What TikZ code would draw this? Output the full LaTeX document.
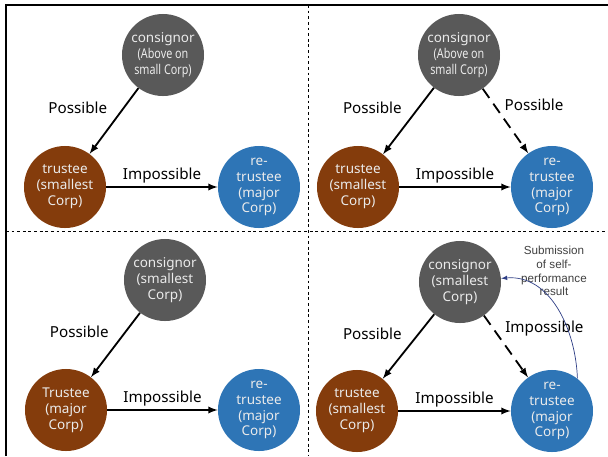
\documentclass[tikz,border=0pt]{standalone}
\usepackage{fontspec}
\usepackage{graphicx}
\setmainfont{Noto Sans}
\newfontfamily\notefont{Liberation Sans}

\definecolor{grayc}{HTML}{595959}
\definecolor{brownc}{HTML}{843C0C}
\definecolor{bluec}{HTML}{2E75B6}
\definecolor{navyc}{HTML}{2F3F86}

\newcommand{\narrow}[1]{\scalebox{0.8}[1]{#1}}

\begin{document}
\begin{tikzpicture}[x=0.025cm, y=-0.025cm,
  disc/.style={circle, minimum size=2.05cm, inner sep=0pt, align=center,
    text=white!92!black, font=\fontsize{9.6}{11.3}\selectfont},
  lab/.style={font=\fontsize{10.8}{12}\selectfont, inner sep=2pt},
  arr/.style={-latex, line width=1.3pt},
  darr/.style={arr, dash pattern=on 8pt off 5pt},
  grid/.style={line width=0.6pt, dash pattern=on 2pt off 2pt}]

  \useasboundingbox (0,0) rectangle (608,456);

  % frame
  \draw [line width=0.9pt] (6,456) -- (6,5) -- (608,5);
  \draw [grid] (6,231) -- (608,231);
  \draw [grid] (308,5) -- (308,456);

  % top left
  \node [disc, fill=grayc] (a) at (163, 55) {consignor\\\narrow{(Above on}\\\narrow{small Corp)}};
  \node [disc, fill=brownc] (b) at (65, 187) {trustee\\(smallest\\Corp)};
  \node [disc, fill=bluec] (c) at (259, 187) {re-\\trustee\\(major\\Corp)};

  % top right
  \node [disc, fill=grayc] (d) at (459, 55) {consignor\\\narrow{(Above on}\\\narrow{small Corp)}};
  \node [disc, fill=brownc] (e) at (358, 187) {trustee\\(smallest\\Corp)};
  \node [disc, fill=bluec] (f) at (552, 187) {re-\\trustee\\(major\\Corp)};

  % bottom left
  \node [disc, fill=grayc] (g) at (165, 280) {consignor\\(smallest\\Corp)};
  \node [disc, fill=brownc] (h) at (66, 410) {Trustee\\(major\\Corp)};
  \node [disc, fill=bluec] (i) at (259, 410) {re-\\trustee\\(major\\Corp)};

  % bottom right
  \node [disc, fill=grayc] (j) at (460, 282) {consignor\\(smallest\\Corp)};
  \node [disc, fill=brownc] (k) at (357, 411) {trustee\\(smallest\\Corp)};
  \node [disc, fill=bluec] (l) at (552, 411) {re-\\trustee\\(major\\Corp)};
  \node [font=\notefont\fontsize{8.3}{9.8}\selectfont, text=black!75, align=center] (s) at (554, 271) {Submission\\of self-\\performance\\result};

  \draw [arr] (a) to node [lab, above left, pos=0.45, xshift=-4pt] {Possible} (b);
  \draw [arr] (b) to node [lab, above] {Impossible} (c);

  \draw [arr] (d) to node [lab, above left, pos=0.45, xshift=-4pt] {Possible} (e);
  \draw [darr] (d) to node [lab, above right, pos=0.4] {Possible} (f);
  \draw [arr] (e) to node [lab, above] {Impossible} (f);

  \draw [arr] (g) to node [lab, above left, pos=0.45, xshift=-4pt] {Possible} (h);
  \draw [arr] (h) to node [lab, above] {Impossible} (i);

  \draw [arr] (j) to node [lab, above left, pos=0.45, xshift=-4pt] {Possible} (k);
  \draw [darr] (j) to node [lab, above right, pos=0.4] {Impossible} (l);
  \draw [arr] (k) to node [lab, above] {Impossible} (l);
  \draw [-latex, navyc, line width=0.5pt] (l.52) to [out=92, in=5] (j.5);

\end{tikzpicture}
\end{document}
